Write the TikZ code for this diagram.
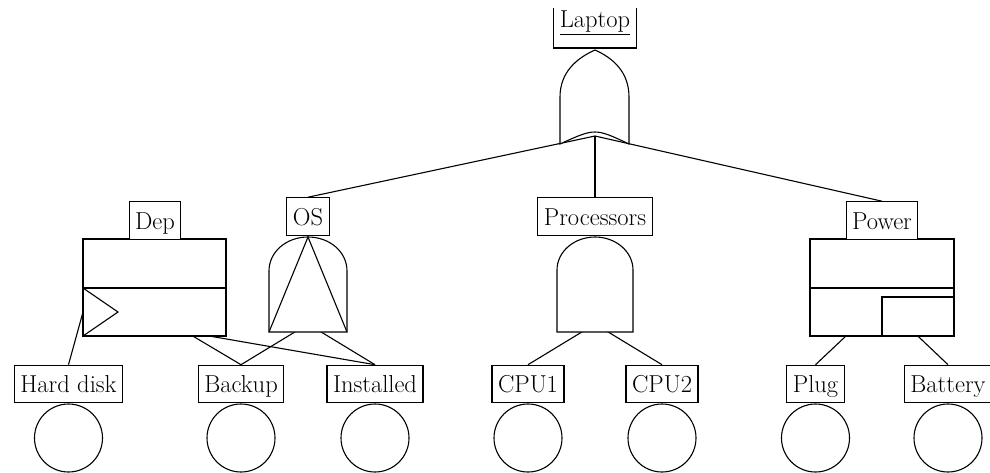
\documentclass[tikz,border=0pt]{standalone}
\pgfdeclarelayer{bg}
\pgfsetlayers{bg,main}
\tikzset{
  ft/.style={line width=1.1pt},
  conn/.style={line width=1.1pt},
  evlabel/.style={draw, fill=white, font=\fontsize{24.5}{29}\selectfont,
    inner xsep=6pt, inner ysep=4pt, text height=23.5pt, text depth=6pt},
  basic/.style={draw, circle, minimum size=68pt, inner sep=0pt},
  gateshape/.style={draw, fill=white},
}
\begin{document}
\begin{tikzpicture}[x=1pt, y=-1pt, ft]
\useasboundingbox (0,0) rectangle (990,472);
\clip (0,8.5) rectangle (990,472.6);

% points where connectors meet each gate
\coordinate (orhub)    at (595,136);
\coordinate (dephub)   at (186,332);
\coordinate (trig)     at (83,312);
\coordinate (oshub)    at (308,324);
\coordinate (andhub)   at (595,324);
\coordinate (sparehub) at (882,302);

% top event: OR gate
\draw[gateshape] (560,144) -- (560,97)
  .. controls (560,72) and (577,58) .. (595,50)
  .. controls (613,58) and (629,72) .. (629,97)
  -- (629,144) .. controls (595,128) .. (560,144) -- cycle;

% Dep: functional dependency gate
\draw[gateshape] (83,239) rectangle (226,336);
\draw (83,288) -- (226,288);
\draw (83,288) -- (118,312) -- (83,336);

% OS: AND gate with triangle
\draw[gateshape] (269,332) -- (269,271)
  .. controls (269,251.7) and (286.5,237) .. (308,237)
  .. controls (329.5,237) and (347,251.7) .. (347,271)
  -- (347,332) -- cycle;
\draw (269,332) -- (308,237) -- (347,332);

% Processors: AND gate
\draw[gateshape] (557,332) -- (557,270)
  .. controls (557,251.8) and (574,237) .. (595,237)
  .. controls (616,237) and (633,251.8) .. (633,270)
  -- (633,332) -- cycle;

% Power: spare gate
\draw[gateshape] (810,239) rectangle (954,336);
\draw (810,288) -- (954,288);
\draw (882,336) -- (882,297) -- (954,297);

% event labels
\node[evlabel, anchor=south, text height=20pt, text depth=16pt] (laptop) at (595,48.5) {\underline{Laptop}};
\node[evlabel] (dep)   at (155,220.5) {Dep};
\node[evlabel] (os)    at (308,216.5) {OS};
\node[evlabel] (proc)  at (595,216.5) {Processors};
\node[evlabel] (power) at (882,220.5) {Power};

\node[evlabel] (hdd)   at (68.5,384) {Hard disk};
\node[evlabel] (bak)   at (241,384)  {Backup};
\node[evlabel] (inst)  at (375,384)  {Installed};
\node[evlabel] (cpua)  at (528,384)  {CPU1};
\node[evlabel] (cpub)  at (662,384)  {CPU2};
\node[evlabel] (plug)  at (815.5,384) {Plug};
\node[evlabel] (batt)  at (948,384)  {Battery};

% basic events
\foreach \n/\x in {hdd/68.5, bak/241, inst/375, cpua/528, cpub/662, plug/815.5, batt/948}
  \node[basic] (\n-c) at (\x,438) {};

% connectors, kept behind the gates
\begin{pgfonlayer}{bg}
  \draw[conn] (orhub) -- (os.north);
  \draw[conn] (orhub) -- (proc.north);
  \draw[conn] (orhub) -- (power.north);
  \draw[conn] (trig) -- (hdd.north);
  \draw[conn] (dephub) -- (bak.north);
  \draw[conn] (dephub) -- (inst.north);
  \draw[conn] (oshub) -- (bak.north);
  \draw[conn] (oshub) -- (inst.north);
  \draw[conn] (andhub) -- (cpua.north);
  \draw[conn] (andhub) -- (cpub.north);
  \draw[conn] (sparehub) -- (plug.north);
  \draw[conn] (sparehub) -- (batt.north);
\end{pgfonlayer}
\end{tikzpicture}
\end{document}
